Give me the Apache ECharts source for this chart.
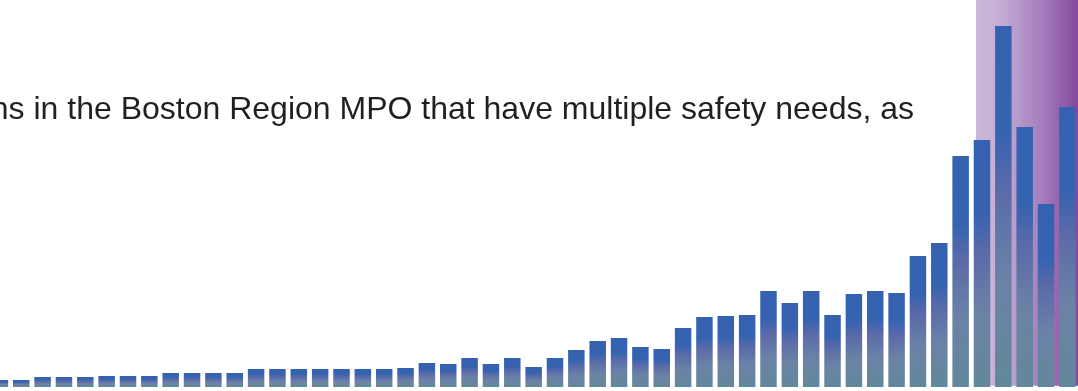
<!DOCTYPE html>
<html>
<head>
	<meta charset="utf-8">
	<title>Multiple safety needs</title>
	<script src="https://cdn.jsdelivr.net/npm/echarts@6/dist/echarts.min.js"></script>
	<style>
		html, body { margin: 0; padding: 0; background: #fff; }
	</style>
</head>
<body>
	<div id="echarts" style="width: 1078px; height: 391px"></div>
	<script>
	// bar heights (1 unit = 1px), one bar per location group
	var positions = [];
	for (var i = 1; i <= 51; i++) positions.push(i);
	var values = [7, 7, 10, 10, 10, 11, 11, 11, 14, 14, 14, 14, 18, 18, 18, 18, 18, 18, 18, 19,
		24, 23, 29, 23, 29, 20, 29, 37, 46, 49, 40, 38, 59, 70, 71, 72, 96, 84, 96, 72,
		93, 96, 94, 131, 144, 231, 247, 361, 260, 183, 280];
	var captionText = 'locations in the Boston Region MPO that have multiple safety needs, as';

	let myChart = echarts.init(document.getElementById('echarts'));
	let option = {
		animation: false,
		grid: {
			left: 0,
			right: 0,
			top: 0,
			bottom: 4
		},
		xAxis: {
			type: 'value',
			min: 1.0047,
			max: 51.497,
			show: false
		},
		yAxis: {
			type: 'value',
			min: 0,
			max: 387,
			show: false
		},
		graphic: [
			{
				type: 'rect',
				z: -10,
				shape: { x: 976, y: -10, width: 110, height: 395.7 },
				style: {
					fill: new echarts.graphic.LinearGradient(0, 0, 1, 0, [
						{ offset: 0, color: '#cbb7da' },
						{ offset: 0.2, color: '#c6afd6' },
						{ offset: 0.6, color: '#a47ebc' },
						{ offset: 1, color: '#7d3c96' }
					])
				}
			},
			{
				type: 'text',
				z: 10,
				x: 914,
				y: 110,
				style: {
					text: captionText,
					fill: '#231f20',
					font: '32px "Liberation Sans", Arial, sans-serif',
					textAlign: 'right',
					textVerticalAlign: 'middle'
				}
			}
		],
		series: [{
			type: 'bar',
			data: positions.map(function (p, k) { return [p, values[k]]; }),
			barWidth: 16.5,
			clip: false,
			itemStyle: {
				color: new echarts.graphic.LinearGradient(0, 0, 0, 1, [
					{ offset: 0, color: '#3562b0' },
					{ offset: 0.3, color: '#3663b0' },
					{ offset: 0.45, color: '#5a6aa9' },
					{ offset: 0.7, color: '#6b82a6' },
					{ offset: 1, color: '#62889a' }
				])
			}
		}]
	};
	myChart.setOption(option);
	</script>
</body>
</html>
